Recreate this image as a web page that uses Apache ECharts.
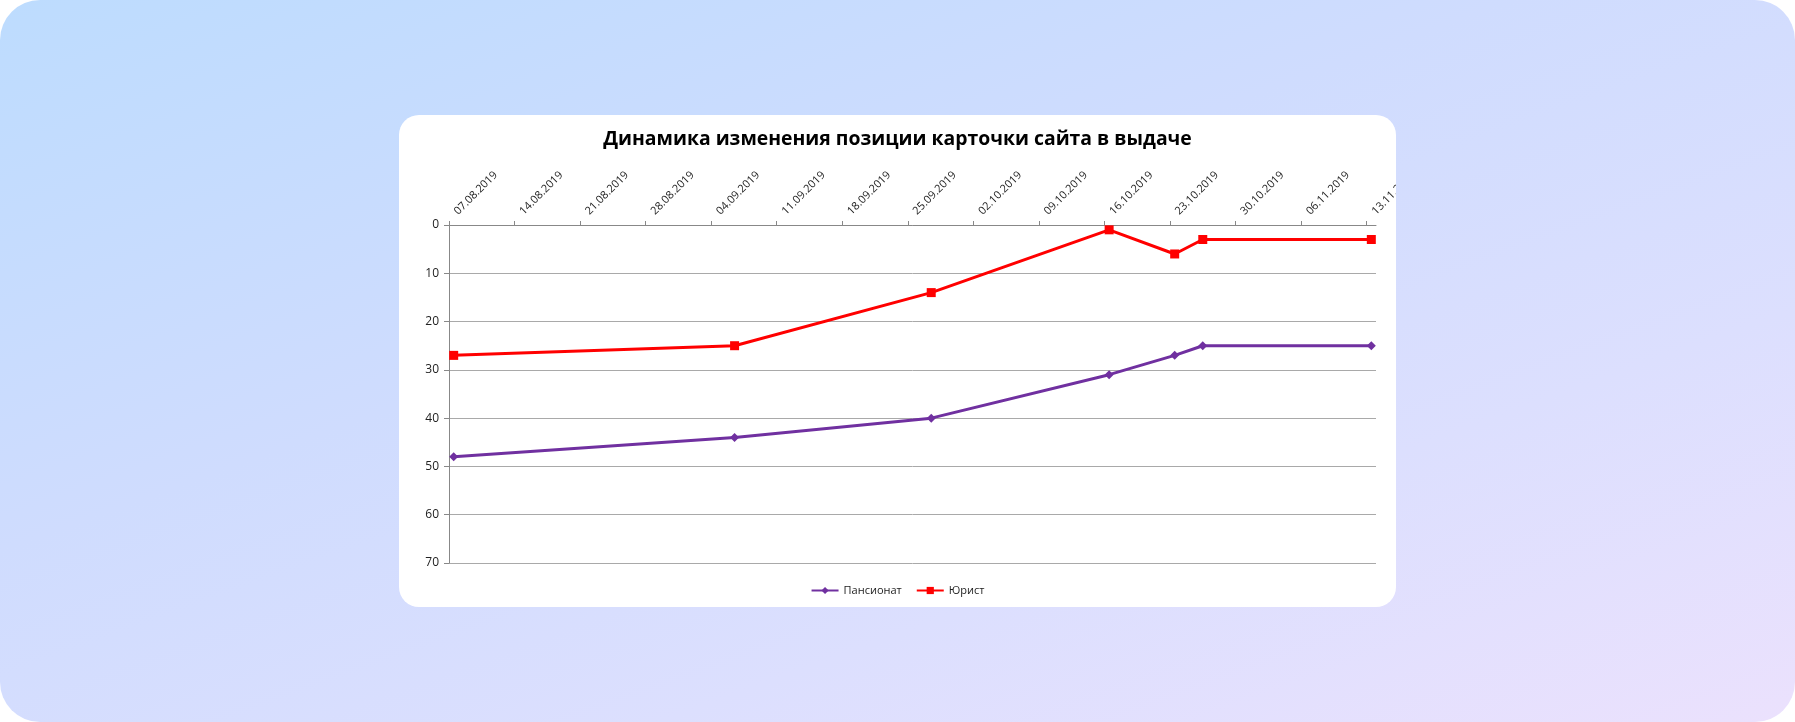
<!DOCTYPE html>
<html>
<head>
<meta charset="utf-8">
<script src="https://cdn.jsdelivr.net/npm/echarts@6/dist/echarts.min.js"></script>
<style>
  html, body { margin: 0; padding: 0; background: #ffffff; }
  #page {
    position: absolute; left: 0; top: 0; width: 1795px; height: 722px;
    border-radius: 40px;
    background: linear-gradient(160deg, #bddcfe 0%, #cfdcfe 40%, #dcdffe 70%, #ebe1fd 100%);
    overflow: hidden;
  }
  #card {
    position: absolute; left: 399px; top: 115px; width: 997px; height: 492px;
    background: #ffffff; border-radius: 20px; overflow: hidden;
  }
  #chart { width: 997px; height: 492px; }
</style>
</head>
<body>
<div id="page"><div id="card"><div id="chart"></div></div></div>
<script>
// ---- data ----
const titleText = 'Динамика изменения позиции карточки сайта в выдаче';
const tickLabels = ['07.08.2019','14.08.2019','21.08.2019','28.08.2019','04.09.2019','11.09.2019','18.09.2019','25.09.2019','02.10.2019','09.10.2019','16.10.2019','23.10.2019','30.10.2019','06.11.2019','13.11.2019'];
const axisEndDate = '14.11.2019';
const pointDates = ['07.08.2019','06.09.2019','27.09.2019','16.10.2019','23.10.2019','26.10.2019','13.11.2019'];
const seriesNames = ['Пансионат', 'Юрист'];
const pansionat = [48, 44, 40, 31, 27, 25, 25];
const yurist = [27, 25, 14, 1, 6, 3, 3];
const yMin = 0, yMax = 70, yStep = 10;

// ---- helpers ----
function parseDate(s) { const p = s.split('.'); return Date.UTC(+p[2], +p[1] - 1, +p[0]); }
const DAY = 86400000;
const origin = parseDate(tickLabels[0]);
function dayIndex(s) { return Math.round((parseDate(s) - origin) / DAY); }
function fmt(idx) {
  const d = new Date(origin + Math.round(idx) * DAY);
  const dd = String(d.getUTCDate()).padStart(2, '0');
  const mm = String(d.getUTCMonth() + 1).padStart(2, '0');
  return dd + '.' + mm + '.' + d.getUTCFullYear();
}
const tickVals = tickLabels.map(dayIndex);
// Excel date axis: each point is drawn in the middle of its day
const toPts = vals => pointDates.map((d, i) => [dayIndex(d) + 0.5, vals[i]]);

const font = '"Open Sans", "Liberation Sans", sans-serif';
const chart = echarts.init(document.getElementById('chart'), null, { renderer: 'canvas' });
chart.setOption({
  animation: false,
  title: {
    text: titleText, left: 'center', top: 10,
    textStyle: { fontFamily: font, fontSize: 19.4, fontWeight: 'bold', color: '#000' }
  },
  legend: {
    bottom: 6, left: 'center', itemWidth: 27, itemHeight: 9, itemGap: 14,
    textStyle: { fontFamily: font, fontSize: 11, color: '#222' },
    data: seriesNames
  },
  grid: { left: 50, right: 20, top: 110, bottom: 44, containLabel: false, outerBoundsMode: 'none' },
  xAxis: {
    type: 'value', position: 'top', min: 0, max: dayIndex(axisEndDate),
    axisLine: { onZero: false, lineStyle: { color: '#888', width: 1 } },
    axisTick: { show: true, length: 4, lineStyle: { color: '#888' }, customValues: tickVals },
    axisLabel: {
      rotate: -45, margin: 5, padding: [0, 0, 0, 10], customValues: tickVals, hideOverlap: false,
      fontFamily: font, fontSize: 11, color: '#222',
      formatter: v => fmt(v)
    },
    splitLine: { show: false }
  },
  yAxis: {
    type: 'value', inverse: true, min: yMin, max: yMax, interval: yStep,
    axisLine: { show: true, lineStyle: { color: '#888', width: 1 } },
    axisTick: { show: true, length: 5, lineStyle: { color: '#888' } },
    axisLabel: { fontFamily: font, fontSize: 12, color: '#222', margin: 10 },
    splitLine: { show: true, lineStyle: { color: '#a9a9a9', width: 1 } }
  },
  series: [
    {
      name: seriesNames[0], type: 'line', data: toPts(pansionat),
      symbol: 'diamond', symbolSize: 9,
      lineStyle: { color: '#7030a0', width: 3 },
      itemStyle: { color: '#7030a0' }
    },
    {
      name: seriesNames[1], type: 'line', data: toPts(yurist),
      symbol: 'rect', symbolSize: 9,
      lineStyle: { color: '#ff0000', width: 3 },
      itemStyle: { color: '#ff0000' }
    }
  ]
});
</script>
</body>
</html>
